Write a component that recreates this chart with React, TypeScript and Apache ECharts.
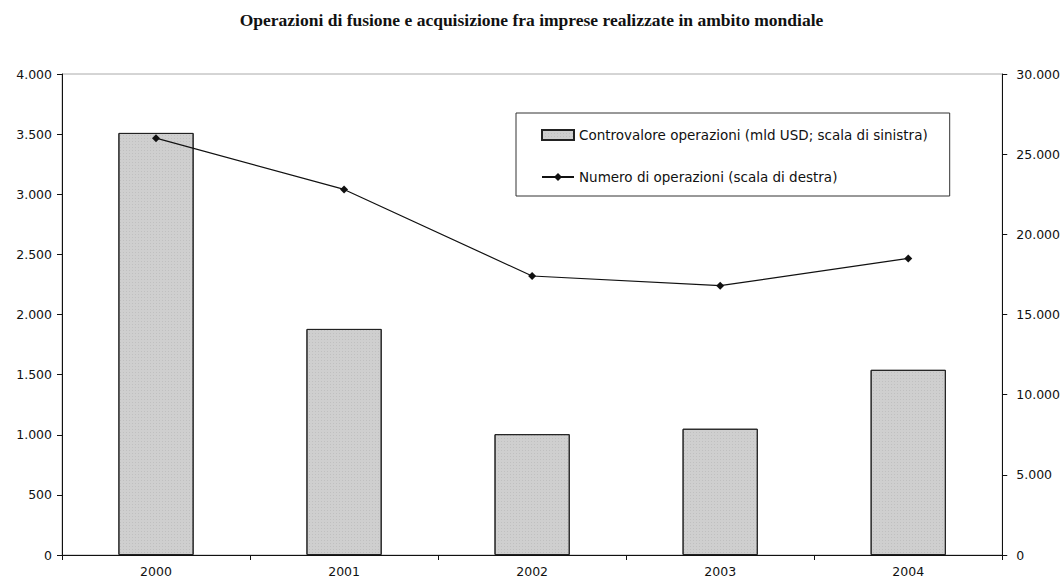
import React, { useEffect, useRef } from "react";
import * as echarts from "echarts";

const years = ["2000", "2001", "2002", "2003", "2004"];
const controvalore = [3510, 1880, 1005, 1050, 1540];
const numeroOperazioni = [26000, 22800, 17400, 16800, 18500];

const fmt = (v: number) => {
  const s = String(Math.round(v));
  return s.replace(/\B(?=(\d{3})+(?!\d))/g, ".");
};

export default function App() {
  const ref = useRef<HTMLDivElement>(null);
  useEffect(() => {
    if (!ref.current) return;
    const chart = echarts.init(ref.current, null, { renderer: "svg" });
    const axisFont = { fontFamily: "DejaVu Sans", fontSize: 12.5, color: "#111" };
    chart.setOption({
      animation: false,
      backgroundColor: "#fff",
      title: {
        text: "Operazioni di fusione e acquisizione fra imprese realizzate in ambito mondiale",
        left: "center",
        top: 6,
        textStyle: {
          fontFamily: "Liberation Serif",
          fontWeight: "bold",
          fontSize: 17.5,
          color: "#111",
        },
      },
      grid: {
        left: 62,
        right: 59,
        top: 74,
        bottom: 23,
        show: true,
        borderColor: "#aaa",
        borderWidth: 1,
      },
      legend: {
        orient: "vertical",
        left: 516,
        top: 113,
        padding: [15, 22, 12, 25],
        itemGap: 28,
        itemWidth: 32,
        itemHeight: 10,
        borderColor: "#333",
        borderWidth: 1,
        textStyle: { fontFamily: "DejaVu Sans", fontSize: 13.5, color: "#111" },
        data: [
          { name: "Controvalore operazioni (mld USD; scala di sinistra)", icon: "rect" },
          { name: "Numero di operazioni (scala di destra)" },
        ],
      },
      xAxis: {
        type: "category",
        data: years,
        boundaryGap: true,
        axisLine: { lineStyle: { color: "#111", width: 1 } },
        axisTick: { show: true, length: 5, lineStyle: { color: "#111" } },
        axisLabel: { ...axisFont, margin: 10 },
      },
      yAxis: [
        {
          type: "value",
          min: 0,
          max: 4000,
          interval: 500,
          position: "left",
          axisLine: { show: true, lineStyle: { color: "#111", width: 1 } },
          axisTick: { show: true, length: 5, lineStyle: { color: "#111" } },
          splitLine: { show: false },
          axisLabel: { ...axisFont, margin: 10, formatter: fmt },
        },
        {
          type: "value",
          min: 0,
          max: 30000,
          interval: 5000,
          position: "right",
          axisLine: { show: true, lineStyle: { color: "#111", width: 1 } },
          axisTick: { show: true, length: 5, lineStyle: { color: "#111" } },
          splitLine: { show: false },
          axisLabel: { ...axisFont, margin: 14, formatter: fmt },
        },
      ],
      series: [
        {
          name: "Controvalore operazioni (mld USD; scala di sinistra)",
          type: "bar",
          yAxisIndex: 0,
          data: controvalore,
          barWidth: "40%",
          itemStyle: {
            color: "#cfcfcf",
            borderColor: "#222",
            borderWidth: 1,
            decal: {
              symbol: "rect",
              symbolSize: 0.6,
              dashArrayX: [1, 2],
              dashArrayY: [1, 2],
              color: "rgba(80,80,80,0.4)",
              rotation: 0,
            },
          },
        },
        {
          name: "Numero di operazioni (scala di destra)",
          type: "line",
          yAxisIndex: 1,
          data: numeroOperazioni,
          symbol: "diamond",
          symbolSize: 8,
          lineStyle: { color: "#111", width: 1.2 },
          itemStyle: { color: "#111" },
        },
      ],
    });
    return () => chart.dispose();
  }, []);
  return <div ref={ref} style={{ width: 1063, height: 578, position: "absolute", left: 0, top: 0 }} />;
}
